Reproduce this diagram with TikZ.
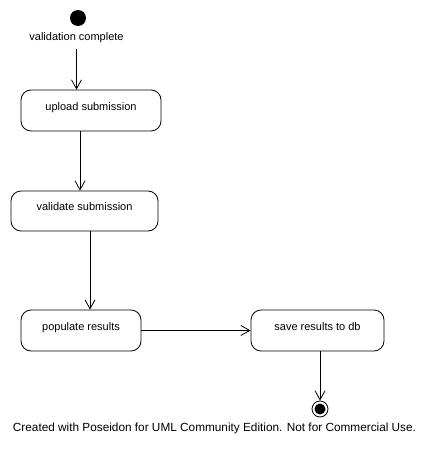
\documentclass[tikz,border=0pt]{standalone}
\usepackage{fontspec}
\setmainfont{Liberation Sans}
\usetikzlibrary{arrows.meta}

\begin{document}
\begin{tikzpicture}[x=1pt, y=-1pt, line width=0.8pt,
        action/.style={draw, rounded corners=10pt, font=\fontsize{11}{13}\selectfont,
            text height=8pt, text depth=9pt, inner sep=0pt},
        flow/.style={-{Straight Barb[length=9pt, width=10pt]}}]
    \useasboundingbox (0,0) rectangle (429,452);
    % start and its label
    \node[circle, fill=black, minimum size=16pt, inner sep=0pt] (start) at (78,18) {};
    \node[font=\fontsize{11}{13}\selectfont, inner sep=2pt] (lbl) at (76.5,38) {validation complete};
    % actions
    \node[action, minimum width=140pt, minimum height=41pt] (upload) at (91,110.5) {upload submission};
    \node[action, minimum width=147pt, minimum height=40pt] (validate) at (84.5,211) {validate submission};
    \node[action, minimum width=120pt, minimum height=41pt] (populate) at (81,330.5) {populate results};
    \node[action, minimum width=133pt, minimum height=41pt] (save) at (317.5,330.5) {save results to db};
    % end
    \node[circle, draw, minimum size=16pt, inner sep=0pt] (end) at (320,409) {};
    \fill (end.center) circle (5.5);
    % transitions
    \draw[flow, shorten <=3pt] (lbl.south) -- (lbl.south |- upload.north);
    \draw[flow] (80,0 |- upload.south) -- (80,0 |- validate.north);
    \draw[flow] (90,0 |- validate.south) -- (90,0 |- populate.north);
    \draw[flow] (populate.east) -- (save.west);
    \draw[flow] (320,0 |- save.south) -- (end.north);
    % footer
    \node[font=\fontsize{11.8}{14}\selectfont] (note) at (214.5,428)
        {Created with Poseidon for UML Community Edition. Not for Commercial Use.};
\end{tikzpicture}
\end{document}
